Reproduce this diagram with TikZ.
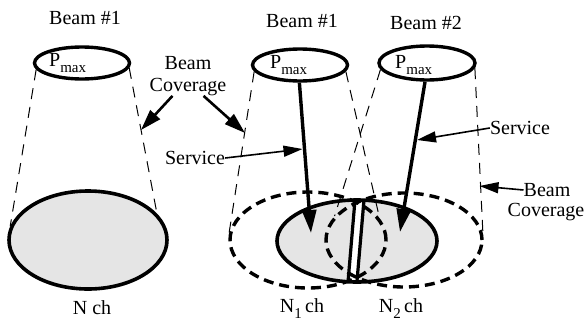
\documentclass[tikz,border=0pt]{standalone}
\usepackage{fontspec}
\setmainfont{Liberation Serif}
\usetikzlibrary{shapes.geometric,arrows.meta}
\newcommand{\subtxt}[1]{\raisebox{-6pt}{\fontsize{15}{15}\selectfont #1}}
\begin{document}
\begin{tikzpicture}[x=1pt,y=-1pt,
  lbl/.style={font=\fontsize{20}{22}\selectfont, inner sep=0pt, align=center},
  beam/.style={ellipse, draw, line width=3.4pt, minimum width=95pt, minimum height=32pt, inner sep=0pt},
  area/.style={ellipse, draw, line width=3.6pt, fill=gray!20, inner sep=0pt},
  areafill/.style={ellipse, fill=gray!20, inner sep=0pt},
  cover/.style={ellipse, draw, line width=3.4pt, dash pattern=on 10pt off 6pt, inner sep=0pt},
  cone/.style={line width=1pt, dash pattern=on 11pt off 8pt},
  svc/.style={line width=3.4pt, -{Triangle[length=23pt,width=14pt]}},
  ptr/.style={line width=1.6pt, -{Triangle[length=19pt,width=11pt]}},
  ptrb/.style={line width=2.6pt, -{Triangle[length=21pt,width=13pt]}},
]
\useasboundingbox (0,0) rectangle (588,324);
\fill[white] (0,0) rectangle (588,324);

% ---- left beam ----
\node[lbl] (t0) at (85,18) {Beam \#1};
\node[beam] (b0) at (82,63) {};
\node[lbl, anchor=base west] (p0) at (49,66) {P\subtxt{max}};
\node[area, minimum width=158pt, minimum height=98pt] (a0) at (88,240) {};
\draw[cone] (b0.188) -- (a0.170);
\draw[cone] (b0.354) -- (a0.21);
\node[lbl] (n0) at (92,308) {N ch};

% ---- middle area ----
\node[areafill, minimum width=160pt, minimum height=82pt] (a1f) at (357,241) {};
\begin{scope}
  \clip (357,241) ellipse (79 and 40);
  \fill[white] (356.5,190) -- (362.5,190) -- (355.5,292) -- (349.5,292) -- cycle;
\end{scope}
\coordinate (s1a) at (355,200);
\coordinate (s1b) at (348,282);
\coordinate (s2a) at (364,200);
\coordinate (s2b) at (357,281);
\draw[line width=3.2pt] (s1a) -- (s1b);
\draw[line width=3.2pt] (s2a) -- (s2b);
\node[ellipse, draw, line width=3.6pt, minimum width=160pt, minimum height=82pt, inner sep=0pt] (a1) at (357,241) {};
\node[cover, minimum width=156pt, minimum height=96pt] (c1) at (308,240) {};
\node[cover, minimum width=156pt, minimum height=94pt] (c2) at (404,240) {};

% ---- beam 1 (middle) ----
\node[lbl] (t1) at (302,21) {Beam \#1};
\node[beam] (b1) at (300,65) {};
\node[lbl, anchor=base west] (p1) at (270,68) {P\subtxt{max}};
\draw[cone] (b1.188) -- (c1.175);
\draw[cone] (b1.352) -- (c1.17);

% ---- beam 2 ----
\node[lbl] (t2) at (426,23) {Beam \#2};
\node[beam, minimum width=96pt, minimum height=34pt] (b2) at (427,63) {};
\node[lbl, anchor=base west] (p2) at (395,68) {P\subtxt{max}};
\draw[cone] (b2.188) -- (c2.161);
\draw[cone] (b2.354) -- (c2.5);

% ---- service arrows ----
\coordinate (e1) at (311,233);
\coordinate (e2) at (400,232);
\draw[svc] (b1.268) -- (e1);
\draw[svc] (b2.264) -- (e2);

% ---- labels ----
\node[lbl] (sv1) at (195,158) {Service};
\coordinate (sv1t) at (302.5,149);
\draw[ptr] (sv1.east) -- (sv1t);
\node[lbl] (sv2) at (520,128) {Service};
\coordinate (sv2t) at (417,140);
\draw[ptr] (sv2.west) -- (sv2t);

\node[lbl] (bc1) at (188,76) {Beam\\Coverage};
\coordinate (bc1l) at (141,130);
\coordinate (bc1r) at (245,133);
\draw[ptrb] (bc1.232) -- (bc1l);
\draw[ptrb] (bc1.308) -- (bc1r);

\node[lbl] (bc2) at (547,190) {Beam};
\node[lbl] (bc2b) at (546,212) {Coverage};
\coordinate (bc2t) at (479.5,186);
\draw[ptr] (bc2.west) -- (bc2t);

\node[lbl] (n1) at (302,309) {N\subtxt{1}\,ch};
\node[lbl] (n2) at (401,309) {N\subtxt{2}\,ch};
\end{tikzpicture}
\end{document}
